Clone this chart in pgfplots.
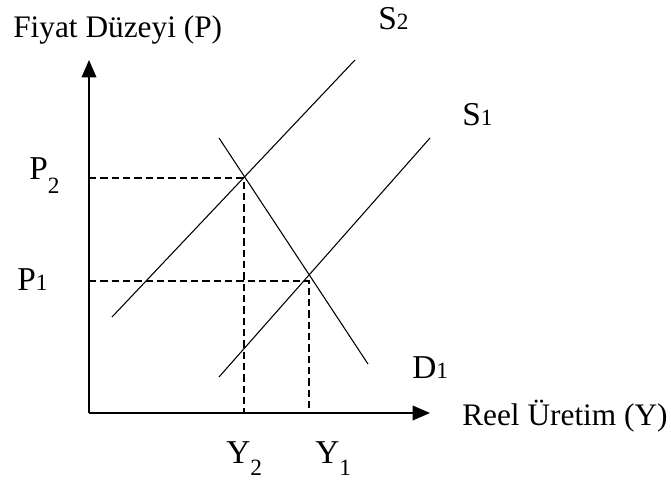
\documentclass[border=0pt]{standalone}
\usepackage{fontspec}
\setmainfont{Liberation Serif}
\usepackage{pgfplots}
\pgfplotsset{compat=1.18}
\usetikzlibrary{arrows.meta}

% labels placed at pixel coordinates of the reference, y from the bottom
\newcommand{\lbl}[4]{\node[anchor=base west, inner sep=0pt, font=\fontsize{#3}{#3}\selectfont] at (axis cs:#1,#2) {#4};}
\newcommand{\sub}[1]{{\fontsize{17.5}{17.5}\selectfont #1}}
\newcommand{\lowsub}[2]{\raisebox{-#1}{\fontsize{17.5}{17.5}\selectfont #2}}

\begin{document}
\begin{tikzpicture}
\begin{axis}[
    width=503.25pt, height=360pt,
    scale only axis,
    xmin=0, xmax=671, ymin=0, ymax=480,
    hide axis,
    clip=false,
]
% axes
\addplot[black, line width=1.1pt, -{Triangle[length=13pt,width=11pt]}] coordinates {(89,67) (89,420)};
\addplot[black, line width=1.1pt, -{Triangle[length=13pt,width=11pt]}] coordinates {(89,67) (430,67)};
% curves
\addplot[black, line width=0.8pt] coordinates {(112,163) (355,420)}; % S2
\addplot[black, line width=0.8pt] coordinates {(219,103) (430,342)}; % S1
\addplot[black, line width=0.8pt] coordinates {(219,342) (368,116)}; % D1
% guide lines
\addplot[black, line width=1pt, dash pattern=on 5.5pt off 3pt] coordinates {(89,302) (244,302) (244,67)};
\addplot[black, line width=1pt, dash pattern=on 5.5pt off 3pt] coordinates {(89,199) (309,199) (309,67)};
% labels
\lbl{13}{443}{23.5}{Fiyat Düzeyi (P)}
\lbl{378}{451}{25}{S\sub{2}}
\lbl{462}{355}{25}{S\sub{1}}
\lbl{29}{301}{25}{P\lowsub{11pt}{2}}
\lbl{17}{190}{25}{P\sub{1}}
\lbl{412}{102}{25}{D\sub{1}}
\lbl{226}{17}{25}{Y\lowsub{9pt}{2}}
\lbl{315}{17}{25}{Y\lowsub{9pt}{1}}
\lbl{462}{55}{23.5}{Reel Üretim (Y)}
\end{axis}
\pgfresetboundingbox
\path (0,0) rectangle (503.25pt,360pt);
\end{tikzpicture}
\end{document}
